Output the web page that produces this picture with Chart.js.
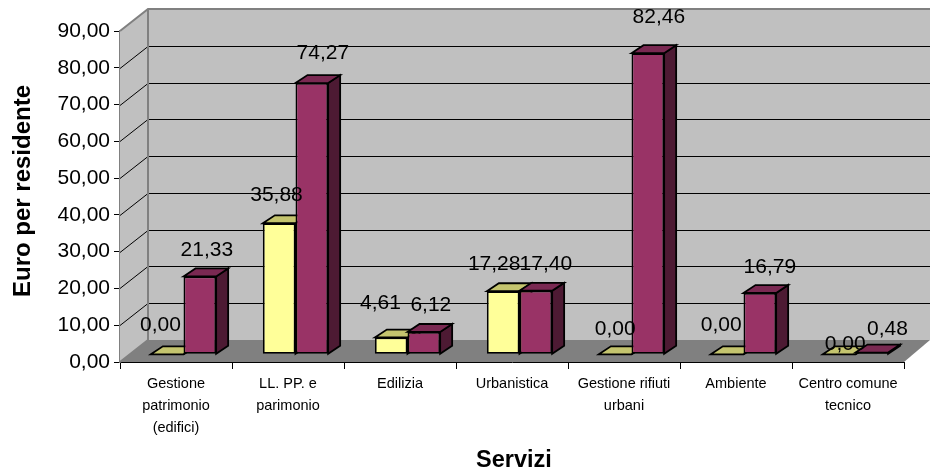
<!DOCTYPE html>
<html><head><meta charset="utf-8">
<style>html,body{margin:0;padding:0;background:#fff}canvas{display:block}</style>
<script src="https://cdn.jsdelivr.net/npm/chart.js@4/dist/chart.umd.min.js"></script>
</head><body><canvas id="c" width="930" height="474"></canvas>
<script>
const categories = [
  ['Gestione','patrimonio','(edifici)'],
  ['LL. PP. e','parimonio'],
  ['Edilizia'],
  ['Urbanistica'],
  ['Gestione rifiuti','urbani'],
  ['Ambiente'],
  ['Centro comune','tecnico']
];
const seriesA = [0.00, 35.88, 4.61, 17.28, 0.00, 0.00, 0.00];
const seriesB = [21.33, 74.27, 6.12, 17.40, 82.46, 16.79, 0.48];
const yTicks = [0,10,20,30,40,50,60,70,80,90];
const xTitle = 'Servizi';
const yTitle = 'Euro per residente';
const labelShiftA = [[-6.7,-29],[-2.7,-28],[-10.7,-34],[-9,-27],[0,-25],[-6,-29],[6,-10]];
const labelShiftB = [[7,-26],[11,-30],[7,-27],[10,-26.5],[11,-36],[10,-26],[15.7,-23]];

const fmt = v => v.toFixed(2).replace('.', ',');
const WALL = {dx:28, dy:-22};
const PLANE = {dx:7.5, dy:-7.7, k:0.993};
const BAR = {dx:12, dy:-8};
const fills = [
  {front:'#FFFF99', top:'#C4C46E', side:'#99995C'},
  {front:'#993366', top:'#7A2952', side:'#4D1A33'}
];

const scene = {
  id:'scene',
  beforeDatasetsDraw(chart){
    const {ctx, chartArea:a, scales:{y}} = chart;
    const {dx,dy} = WALL;
    ctx.save();
    // back and side walls
    ctx.fillStyle='#C0C0C0';
    ctx.fillRect(a.left+dx, a.top+dy, a.width+dx, a.height);
    ctx.beginPath();
    ctx.moveTo(a.left,a.top);ctx.lineTo(a.left+dx,a.top+dy);ctx.lineTo(a.left+dx,a.bottom+dy);ctx.lineTo(a.left,a.bottom);
    ctx.closePath();ctx.fill();
    // floor
    ctx.fillStyle='#808080';
    ctx.beginPath();
    ctx.moveTo(a.left,a.bottom);ctx.lineTo(a.right,a.bottom);ctx.lineTo(a.right+26,a.bottom+dy);ctx.lineTo(a.left+dx,a.bottom+dy);
    ctx.closePath();ctx.fill();
    // gridlines
    ctx.strokeStyle='#000';ctx.lineWidth=1;
    yTicks.slice(1,-1).forEach(v=>{
      const py=Math.round(y.getPixelForValue(v))+0.5;
      ctx.beginPath();ctx.moveTo(a.left,py);ctx.lineTo(a.left+dx,py+dy);ctx.lineTo(930,py+dy);ctx.stroke();
    });
    // wall edges
    ctx.strokeStyle='#808080';ctx.lineWidth=2;
    ctx.beginPath();
    ctx.moveTo(a.left,a.top);ctx.lineTo(a.left+dx,a.top+dy);ctx.lineTo(930,a.top+dy);
    ctx.moveTo(a.left+dx,a.top+dy);ctx.lineTo(a.left+dx,a.bottom+dy);ctx.lineTo(a.left,a.bottom);
    ctx.stroke();
    ctx.restore();
    // bars, left series first so the right series sits in front of it
    chart.data.datasets.forEach((ds,d)=>{
      const meta = chart.getDatasetMeta(d);
      const col = fills[d];
      ctx.save();
      ctx.transform(1,0,0,PLANE.k,PLANE.dx,PLANE.dy+a.bottom*(1-PLANE.k));
      meta.controller.draw();
      meta.data.forEach(el=>{
        const {x,y:vy,base,width} = el.getProps(['x','y','base','width'],true);
        const l=x-width/2, r=x+width/2;
        ctx.lineWidth=1.8;ctx.strokeStyle='#000';ctx.lineJoin='miter';
        ctx.fillStyle=col.side;
        ctx.beginPath();ctx.moveTo(r,vy);ctx.lineTo(r+BAR.dx,vy+BAR.dy);ctx.lineTo(r+BAR.dx,base+BAR.dy);ctx.lineTo(r,base);ctx.closePath();ctx.fill();ctx.stroke();
        ctx.fillStyle=col.top;
        ctx.beginPath();ctx.moveTo(l,vy);ctx.lineTo(l+BAR.dx,vy+BAR.dy);ctx.lineTo(r+BAR.dx,vy+BAR.dy);ctx.lineTo(r,vy);ctx.closePath();ctx.fill();ctx.stroke();
      });
      ctx.restore();
    });
  },
  beforeDatasetDraw(){ return false; },
  afterDatasetsDraw(chart){
    const {ctx, chartArea:a} = chart;
    ctx.save();
    ctx.font='21px "Liberation Sans"';
    ctx.fillStyle='#000';ctx.textAlign='center';ctx.textBaseline='middle';
    [labelShiftA,labelShiftB].forEach((shift,d)=>{
      chart.getDatasetMeta(d).data.forEach((el,i)=>{
        const {x,y} = el.getProps(['x','y'],true);
        const val = chart.data.datasets[d].data[i];
        const py = a.bottom+PLANE.dy-(a.bottom-y)*PLANE.k;
        ctx.fillText(fmt(val), x+PLANE.dx+shift[i][0], py+shift[i][1]);
      });
    });
    // axis titles
    ctx.font='bold 23.5px "Liberation Sans"';
    ctx.fillText(xTitle, 514, 461);
    ctx.translate(23,191);ctx.rotate(-Math.PI/2);
    ctx.font='bold 24px "Liberation Sans"';
    ctx.fillText(yTitle, 0, 0);
    ctx.restore();
  }
};

new Chart(document.getElementById('c'),{
  type:'bar',
  data:{labels:categories,datasets:[
    {label:'A',data:seriesA,backgroundColor:fills[0].front,borderColor:'#000',borderWidth:1.8,borderSkipped:false,clip:false},
    {label:'B',data:seriesB,backgroundColor:fills[1].front,borderColor:'#000',borderWidth:1.8,borderSkipped:false,clip:false}
  ]},
  plugins:[scene],
  options:{
    responsive:false,animation:false,devicePixelRatio:1,
    categoryPercentage:0.583,barPercentage:1,
    layout:{padding:{top:31,right:26,left:0,bottom:0}},
    plugins:{legend:{display:false},tooltip:{enabled:false},title:{display:false}},
    scales:{
      x:{
        grid:{offset:true,drawOnChartArea:false,color:'#000',tickLength:7,tickColor:'#000'},
        border:{color:'#000',width:1},
        ticks:{color:'#000',font:{family:'Liberation Sans',size:14.5,lineHeight:1.52},padding:4,maxRotation:0,autoSkip:false},
        afterFit(s){s.height=112;}
      },
      y:{
        min:0,max:90,
        afterBuildTicks(s){s.ticks=yTicks.map(v=>({value:v}));},
        grid:{drawOnChartArea:false,color:'#000',tickLength:6,tickColor:'#000'},
        border:{color:'#808080',width:1.5},
        ticks:{color:'#000',font:{family:'Liberation Sans',size:21},padding:4,callback:v=>fmt(v)},
        afterFit(s){s.width=120;}
      }
    }
  }
});
</script></body></html>
